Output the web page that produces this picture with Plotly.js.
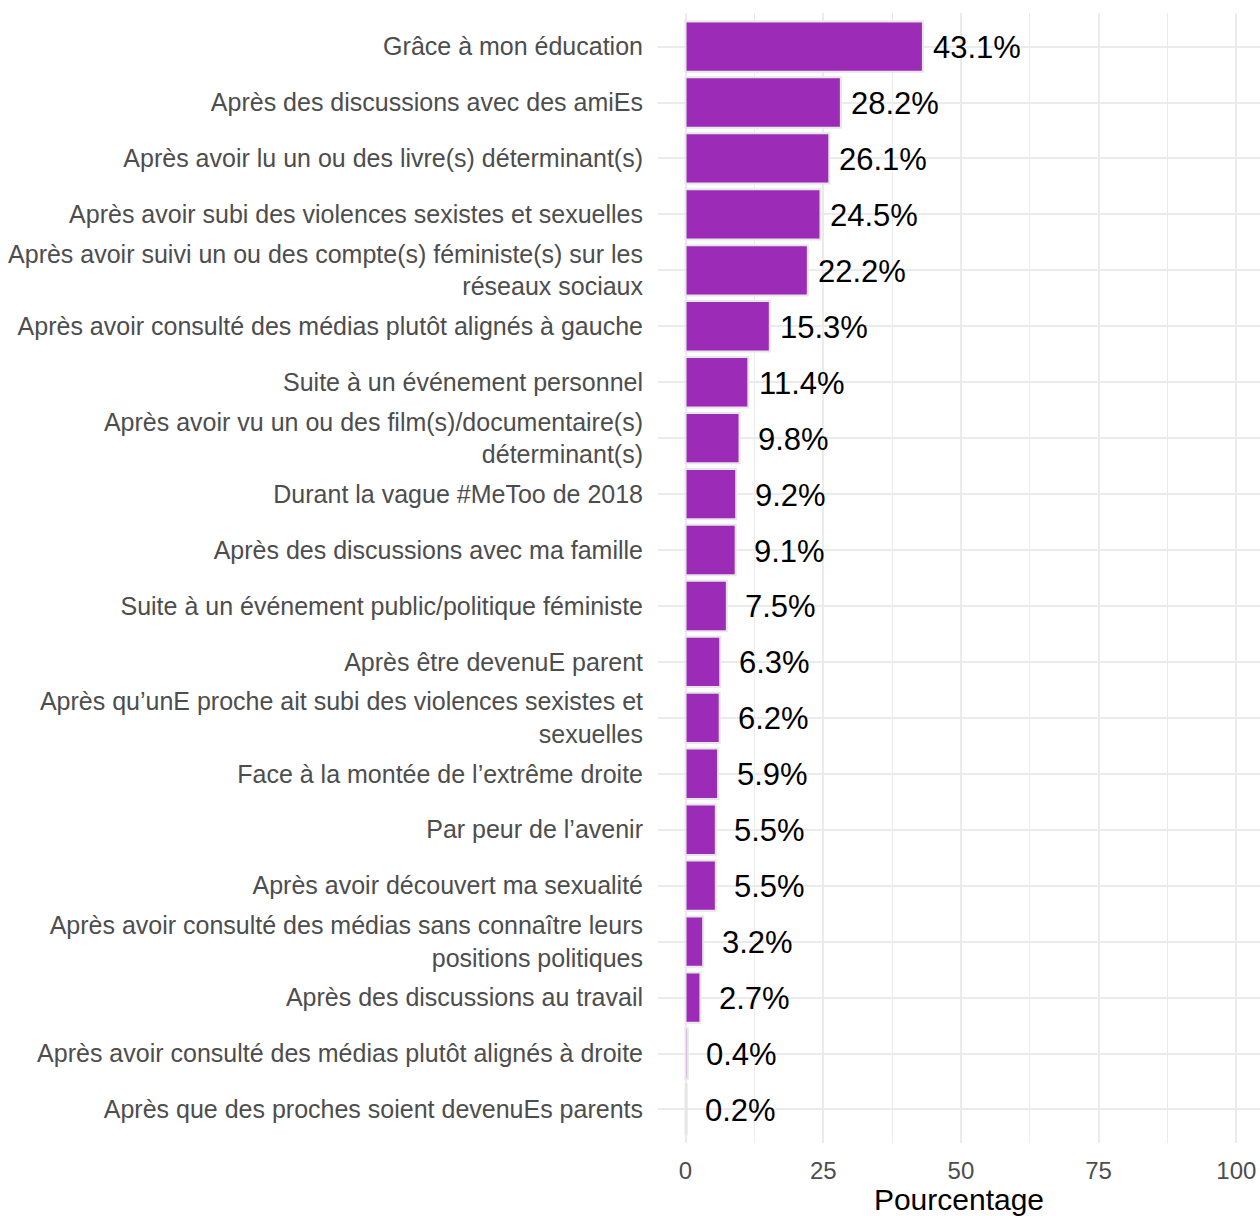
<!DOCTYPE html>
<html>
<head>
<meta charset="utf-8">
<script src="https://cdn.plot.ly/plotly-3.0.1.min.js"></script>
<style>
  html, body { margin: 0; padding: 0; background: #fff; }
  #chart { width: 1260px; height: 1216px; }
</style>
</head>
<body>
<div id="chart"></div>
<script>
// Chart data (top to bottom)
const categories = [
    'Grâce à mon éducation',
    'Après des discussions avec des amiEs',
    'Après avoir lu un ou des livre(s) déterminant(s)',
    'Après avoir subi des violences sexistes et sexuelles',
    'Après avoir suivi un ou des compte(s) féministe(s) sur les<br>réseaux sociaux',
    'Après avoir consulté des médias plutôt alignés à gauche',
    'Suite à un événement personnel',
    'Après avoir vu un ou des film(s)/documentaire(s)<br>déterminant(s)',
    'Durant la vague #MeToo de 2018',
    'Après des discussions avec ma famille',
    'Suite à un événement public/politique féministe',
    'Après être devenuE parent',
    'Après qu’unE proche ait subi des violences sexistes et<br>sexuelles',
    'Face à la montée de l’extrême droite',
    'Par peur de l’avenir',
    'Après avoir découvert ma sexualité',
    'Après avoir consulté des médias sans connaître leurs<br>positions politiques',
    'Après des discussions au travail',
    'Après avoir consulté des médias plutôt alignés à droite',
    'Après que des proches soient devenuEs parents'
];
const percentages = [43.1, 28.2, 26.1, 24.5, 22.2, 15.3, 11.4, 9.8, 9.2, 9.1,
                     7.5, 6.3, 6.2, 5.9, 5.5, 5.5, 3.2, 2.7, 0.4, 0.2];
const xTicks = [0, 25, 50, 75, 100];

const font = 'Liberation Sans, Arial, sans-serif';
const gridColor = '#ebebeb';

const trace = {
    type: 'bar',
    orientation: 'h',
    x: percentages,
    y: categories,
    width: 0.9,
    marker: {
        color: '#9c2bb8',
        line: { color: '#e6e6e6', width: 2 }
    },
    hoverinfo: 'x+y'
};

// value labels, centred a fixed distance right of each bar end
const labels = categories.map((cat, i) => ({
    x: percentages[i],
    y: cat,
    xref: 'x',
    yref: 'y',
    text: percentages[i].toFixed(1) + '%',
    showarrow: false,
    xanchor: 'center',
    yanchor: 'middle',
    xshift: 54,
    yshift: -1,
    font: { family: font, size: 31, color: '#000000' }
}));

const layout = {
    width: 1260,
    height: 1216,
    margin: { l: 658, r: 0, t: 13, b: 73 },
    paper_bgcolor: '#ffffff',
    plot_bgcolor: '#ffffff',
    font: { family: font, color: '#4d4d4d' },
    showlegend: false,
    xaxis: {
        range: [-5, 104.3],
        tickvals: xTicks,
        ticktext: xTicks.map(String),
        ticks: '',
        showline: false,
        zeroline: false,
        gridcolor: gridColor,
        gridwidth: 2,
        minor: { dtick: 12.5, tick0: 0, showgrid: true, gridcolor: gridColor, gridwidth: 1 },
        tickfont: { family: font, size: 24, color: '#4d4d4d' },
        ticklabelstandoff: 11,
        title: { text: 'Pourcentage', font: { family: font, size: 30, color: '#000000' }, standoff: 6 },
        automargin: false
    },
    yaxis: {
        type: 'category',
        categoryorder: 'array',
        categoryarray: categories,
        range: [19.6, -0.6],
        ticks: '',
        showline: false,
        zeroline: false,
        gridcolor: gridColor,
        gridwidth: 2,
        tickfont: { family: font, size: 25, color: '#4d4d4d' },
        ticklabelstandoff: 14,
        automargin: false
    },
    annotations: labels
};

Plotly.newPlot('chart', [trace], layout, { displayModeBar: false, responsive: false });
</script>
</body>
</html>
